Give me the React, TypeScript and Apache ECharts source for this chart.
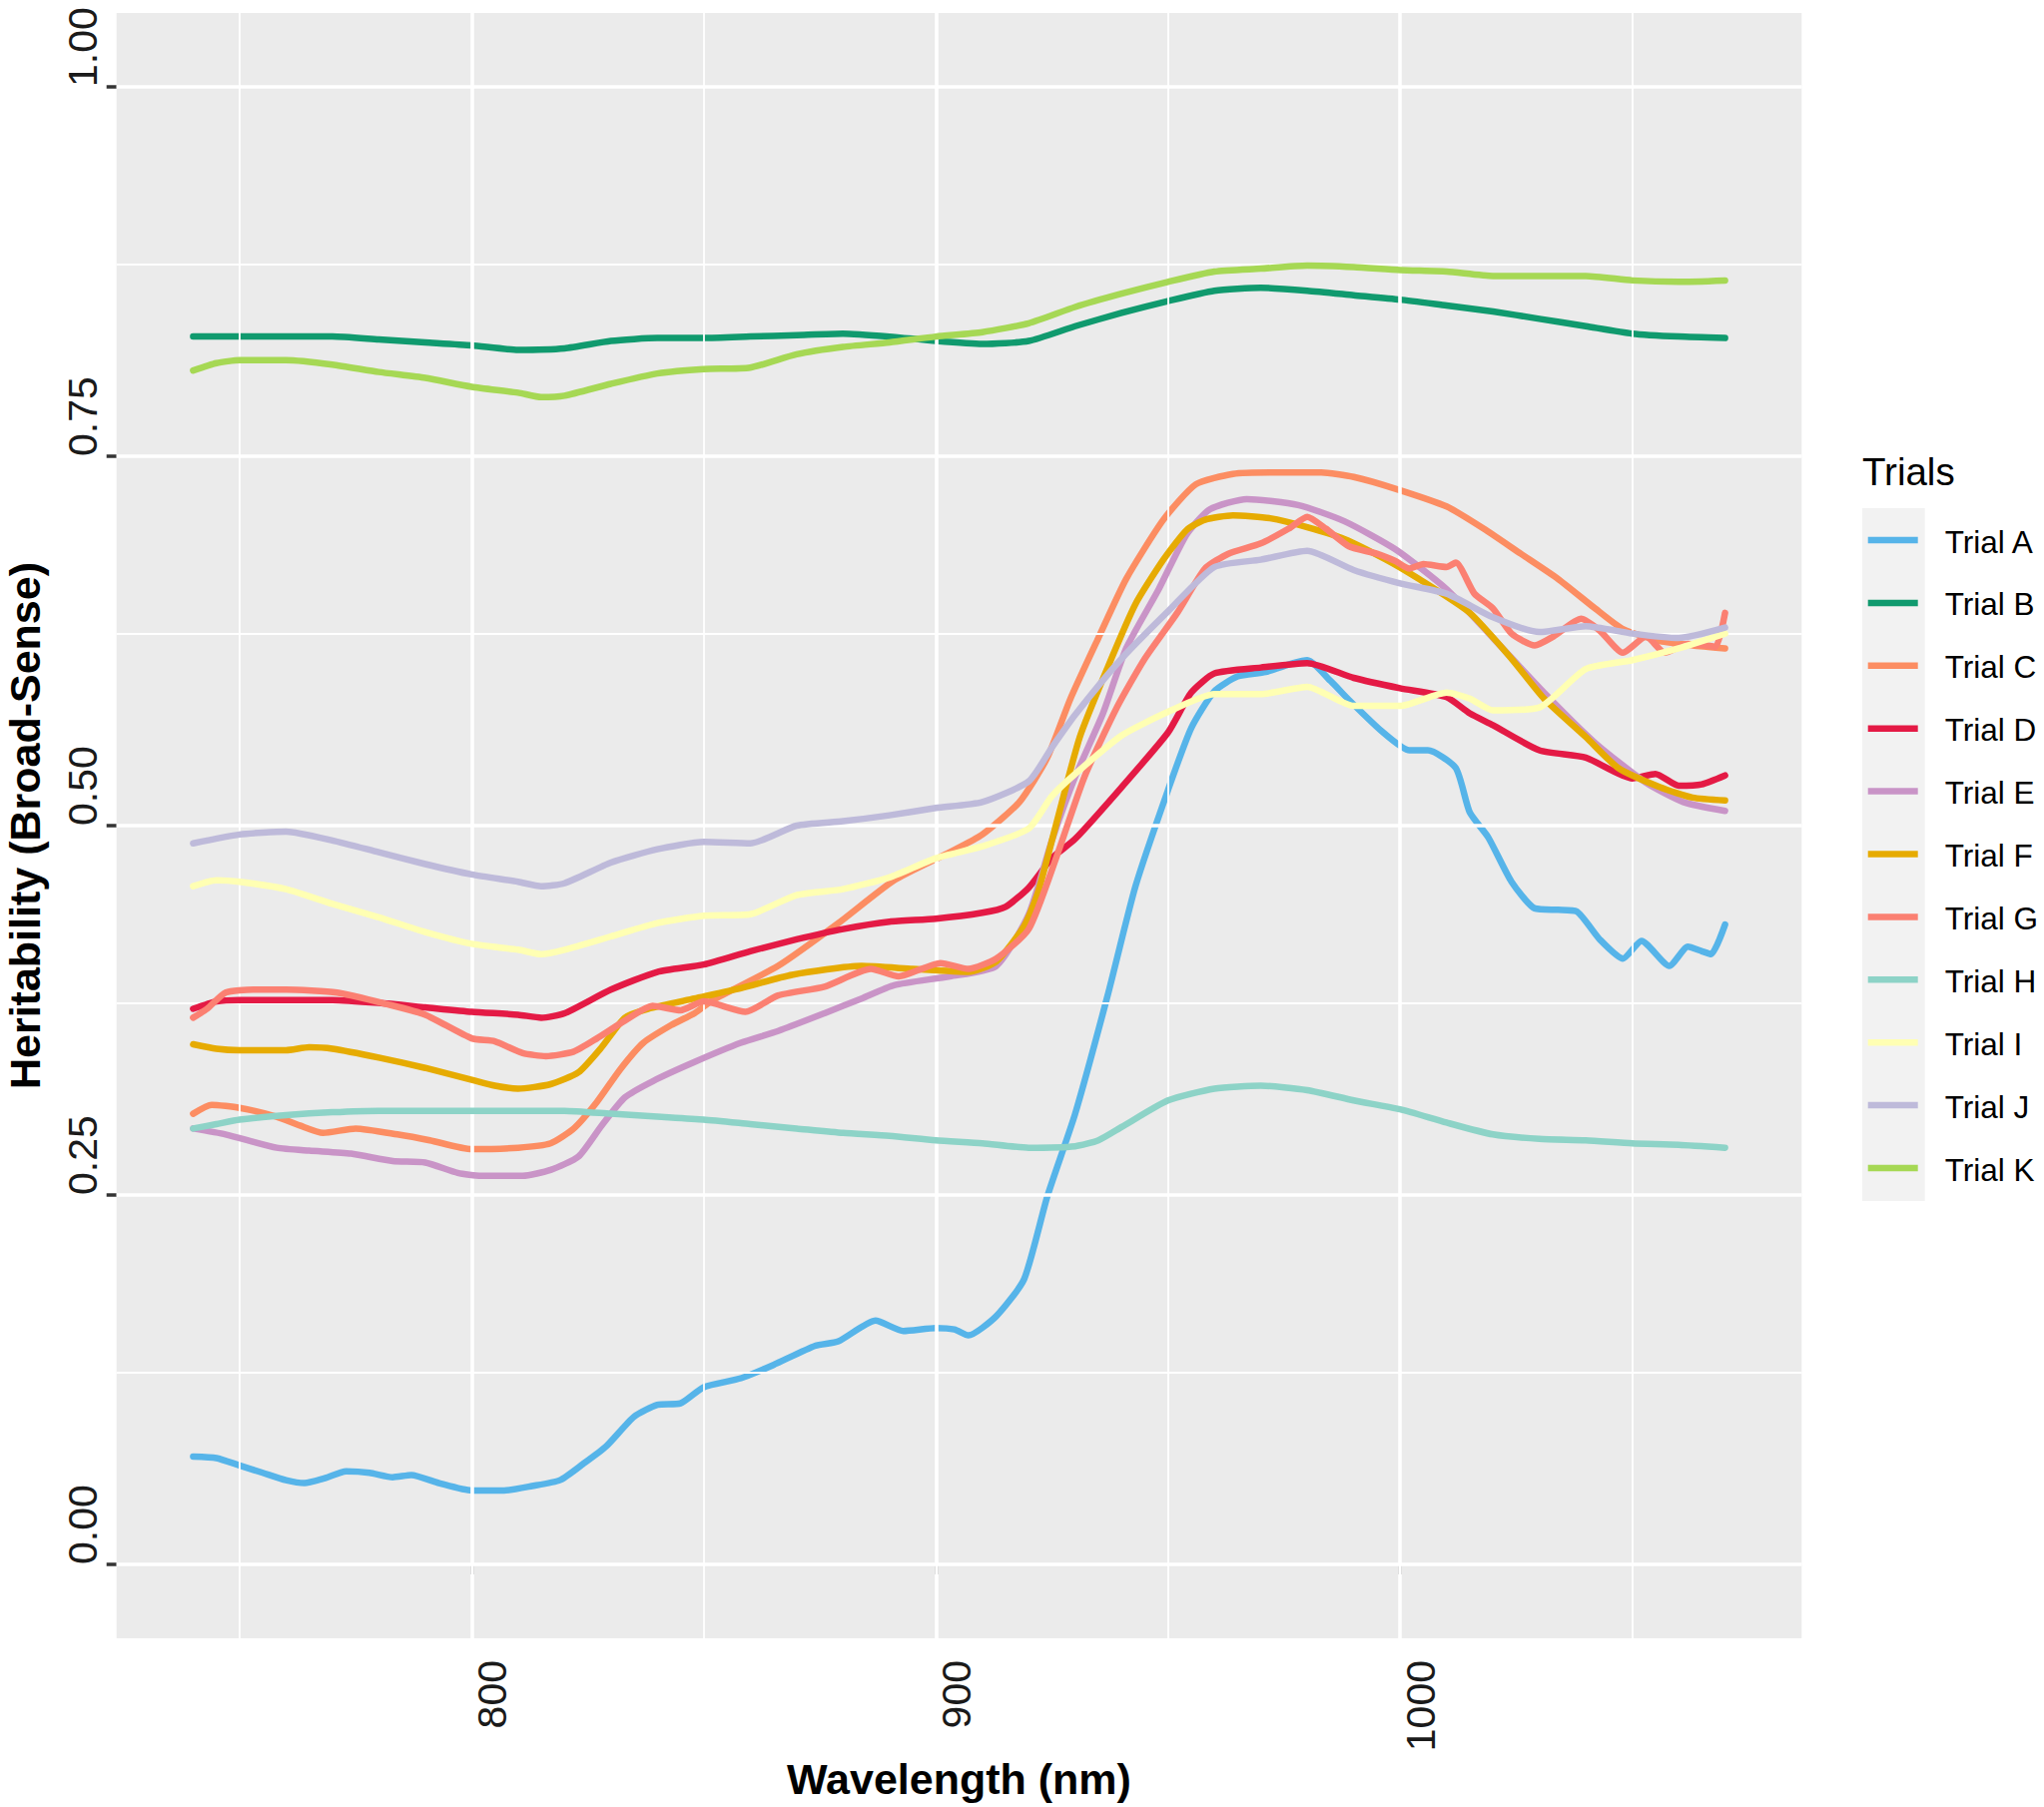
import React, { useEffect, useRef } from "react";
import * as echarts from "echarts";

// ---------- data ----------
const trialNames = ["Trial A", "Trial B", "Trial C", "Trial D", "Trial E", "Trial F", "Trial G", "Trial H", "Trial I", "Trial J", "Trial K"];
const trialColors = ["#56B4E9", "#109A6E", "#FC8D62", "#E41A45", "#C994C7", "#E6AB02", "#FB8072", "#8DD3C7", "#FFFFB3", "#BEBADA", "#A6D854"];

const xMajorTicks = [800, 900, 1000];
const xMinorTicks = [750, 850, 950, 1050];
const yMajorTicks = [0, 0.25, 0.5, 0.75, 1.0];
const yMinorTicks = [0.125, 0.375, 0.625, 0.875];

const trialA: [number, number][] = [
  [740, 0.073], [745, 0.072], [750, 0.067], [755, 0.062], [760, 0.057], [764, 0.055], [768, 0.058], [773, 0.063],
  [778, 0.062], [783, 0.059], [787, 0.0605], [793, 0.055], [800, 0.05], [807, 0.05], [813, 0.053], [819, 0.057],
  [824, 0.068], [829, 0.08], [835, 0.1], [840, 0.108], [845, 0.109], [850, 0.12], [858, 0.126], [865, 0.135],
  [874, 0.148], [879, 0.151], [887, 0.165], [893, 0.158], [900, 0.16], [904, 0.159], [907, 0.155], [913, 0.168],
  [919, 0.193], [924, 0.249], [930, 0.305], [937, 0.385], [943, 0.459], [950, 0.524], [955, 0.566], [960, 0.591],
  [965, 0.601], [971, 0.604], [977, 0.61], [980, 0.612], [985, 0.598], [989, 0.585], [996, 0.564], [1002, 0.551],
  [1006, 0.551], [1012, 0.539], [1015, 0.509], [1019, 0.492], [1024, 0.462], [1029, 0.444], [1034, 0.443],
  [1038, 0.442], [1043, 0.423], [1048, 0.41], [1052, 0.422], [1058, 0.405], [1062, 0.418], [1065, 0.415],
  [1067, 0.413], [1070, 0.433],
];
const trialB: [number, number][] = [
  [740, 0.831], [750, 0.831], [760, 0.831], [770, 0.831], [780, 0.829], [790, 0.827], [800, 0.825], [810, 0.822],
  [820, 0.823], [830, 0.828], [840, 0.83], [850, 0.83], [860, 0.831], [870, 0.832], [880, 0.833], [890, 0.831],
  [900, 0.828], [910, 0.826], [920, 0.828], [930, 0.838], [940, 0.847], [950, 0.855], [960, 0.862], [970, 0.864],
  [980, 0.862], [990, 0.859], [1000, 0.856], [1010, 0.852], [1020, 0.848], [1030, 0.843], [1040, 0.838],
  [1050, 0.833], [1060, 0.831], [1070, 0.83],
];
const trialC: [number, number][] = [
  [740, 0.305], [744, 0.311], [750, 0.309], [758, 0.303], [763, 0.297], [768, 0.292], [775, 0.295], [784, 0.291],
  [791, 0.287], [800, 0.281], [810, 0.282], [817, 0.285], [822, 0.295], [827, 0.313], [832, 0.335], [837, 0.353],
  [843, 0.365], [848, 0.373], [852, 0.382], [866, 0.405], [879, 0.434], [891, 0.463], [903, 0.482], [910, 0.494],
  [918, 0.516], [924, 0.546], [929, 0.586], [935, 0.627], [941, 0.667], [949, 0.707], [956, 0.731], [964, 0.738],
  [972, 0.739], [983, 0.739], [990, 0.736], [999, 0.728], [1010, 0.716], [1018, 0.701], [1026, 0.684],
  [1034, 0.667], [1042, 0.647], [1048, 0.633], [1056, 0.625], [1063, 0.622], [1070, 0.62],
];
const trialD: [number, number][] = [
  [740, 0.376], [745, 0.381], [750, 0.382], [760, 0.382], [770, 0.382], [780, 0.38], [790, 0.377], [800, 0.374],
  [810, 0.372], [815, 0.37], [820, 0.373], [830, 0.389], [840, 0.401], [850, 0.406], [860, 0.415], [870, 0.423],
  [880, 0.43], [890, 0.435], [900, 0.437], [910, 0.441], [915, 0.445], [920, 0.458], [925, 0.478], [930, 0.491],
  [940, 0.526], [950, 0.563], [955, 0.59], [960, 0.603], [970, 0.607], [980, 0.61], [990, 0.6], [1000, 0.593],
  [1010, 0.587], [1015, 0.576], [1020, 0.568], [1030, 0.551], [1040, 0.546], [1050, 0.532], [1055, 0.535],
  [1060, 0.527], [1065, 0.528], [1070, 0.534],
];
const trialE: [number, number][] = [
  [740, 0.295], [747, 0.291], [758, 0.282], [765, 0.28], [774, 0.278], [783, 0.273], [790, 0.272], [797, 0.265],
  [802, 0.263], [811, 0.263], [817, 0.267], [823, 0.276], [828, 0.297], [833, 0.316], [839, 0.327], [848, 0.34],
  [858, 0.353], [866, 0.361], [876, 0.373], [884, 0.383], [891, 0.392], [903, 0.398], [913, 0.405], [920, 0.44],
  [925, 0.49], [930, 0.533], [936, 0.576], [941, 0.62], [948, 0.66], [954, 0.697], [959, 0.714], [967, 0.721],
  [978, 0.717], [988, 0.706], [999, 0.687], [1010, 0.66], [1020, 0.627], [1031, 0.59], [1042, 0.556],
  [1053, 0.529], [1061, 0.516], [1070, 0.51],
];
const trialF: [number, number][] = [
  [740, 0.352], [745, 0.349], [750, 0.348], [760, 0.348], [765, 0.35], [770, 0.349], [780, 0.343], [790, 0.336],
  [800, 0.328], [805, 0.324], [810, 0.322], [817, 0.325], [823, 0.333], [828, 0.35], [833, 0.37], [838, 0.376],
  [848, 0.383], [858, 0.39], [869, 0.399], [884, 0.405], [895, 0.403], [907, 0.401], [913, 0.408], [919, 0.432],
  [922, 0.455], [926, 0.502], [931, 0.56], [937, 0.607], [943, 0.65], [949, 0.68], [954, 0.7], [958, 0.707],
  [964, 0.71], [972, 0.708], [980, 0.702], [988, 0.694], [997, 0.68], [1004, 0.667], [1015, 0.644], [1024, 0.613],
  [1031, 0.586], [1040, 0.56], [1047, 0.539], [1056, 0.526], [1063, 0.519], [1070, 0.517],
];
const trialG: [number, number][] = [
  [740, 0.37], [743, 0.376], [747, 0.387], [753, 0.389], [760, 0.389], [771, 0.387], [782, 0.379], [790, 0.372],
  [800, 0.356], [805, 0.354], [811, 0.346], [816, 0.344], [822, 0.347], [827, 0.356], [833, 0.368], [839, 0.378],
  [845, 0.375], [850, 0.381], [859, 0.374], [866, 0.385], [876, 0.391], [886, 0.403], [892, 0.398], [901, 0.407],
  [907, 0.403], [913, 0.41], [920, 0.43], [926, 0.479], [932, 0.533], [939, 0.58], [945, 0.613], [952, 0.644],
  [958, 0.674], [963, 0.684], [970, 0.691], [976, 0.701], [980, 0.709], [984, 0.701], [989, 0.689], [995, 0.684],
  [999, 0.679], [1002, 0.674], [1005, 0.677], [1010, 0.675], [1012, 0.678], [1016, 0.657], [1020, 0.647],
  [1024, 0.63], [1029, 0.622], [1033, 0.628], [1039, 0.64], [1043, 0.632], [1048, 0.617], [1053, 0.628],
  [1057, 0.617], [1062, 0.623], [1066, 0.622], [1068, 0.621], [1070, 0.644],
];
const trialH: [number, number][] = [
  [740, 0.295], [745, 0.298], [750, 0.301], [760, 0.304], [770, 0.306], [780, 0.307], [790, 0.307], [800, 0.307],
  [810, 0.307], [820, 0.307], [830, 0.305], [840, 0.303], [850, 0.301], [860, 0.298], [870, 0.295], [880, 0.292],
  [890, 0.29], [900, 0.287], [910, 0.285], [920, 0.282], [930, 0.283], [935, 0.287], [940, 0.296], [950, 0.314],
  [960, 0.322], [970, 0.324], [980, 0.321], [990, 0.314], [1000, 0.308], [1010, 0.299], [1020, 0.291],
  [1030, 0.288], [1040, 0.287], [1050, 0.285], [1060, 0.284], [1070, 0.282],
];
const trialI: [number, number][] = [
  [740, 0.459], [745, 0.463], [750, 0.462], [760, 0.457], [770, 0.447], [780, 0.438], [790, 0.428], [800, 0.42],
  [810, 0.416], [815, 0.413], [820, 0.416], [830, 0.425], [840, 0.434], [850, 0.439], [860, 0.44], [870, 0.453],
  [880, 0.457], [890, 0.465], [900, 0.478], [910, 0.486], [920, 0.498], [925, 0.52], [930, 0.535], [940, 0.561],
  [950, 0.577], [960, 0.589], [970, 0.589], [980, 0.594], [990, 0.581], [1000, 0.581], [1010, 0.59], [1015, 0.586],
  [1020, 0.578], [1030, 0.58], [1040, 0.606], [1050, 0.612], [1060, 0.62], [1070, 0.63],
];
const trialJ: [number, number][] = [
  [740, 0.488], [750, 0.494], [760, 0.496], [770, 0.49], [780, 0.482], [790, 0.474], [800, 0.467], [810, 0.462],
  [815, 0.459], [820, 0.461], [830, 0.475], [840, 0.484], [850, 0.489], [860, 0.488], [870, 0.5], [880, 0.503],
  [890, 0.507], [900, 0.512], [910, 0.516], [920, 0.53], [925, 0.553], [930, 0.575], [940, 0.613], [950, 0.645],
  [960, 0.675], [970, 0.68], [980, 0.686], [990, 0.673], [1000, 0.664], [1010, 0.657], [1020, 0.641],
  [1030, 0.631], [1040, 0.635], [1050, 0.63], [1060, 0.627], [1070, 0.634],
];
const trialK: [number, number][] = [
  [740, 0.808], [745, 0.813], [750, 0.815], [760, 0.815], [770, 0.812], [780, 0.807], [790, 0.803], [800, 0.797],
  [810, 0.793], [815, 0.79], [820, 0.791], [830, 0.799], [840, 0.806], [850, 0.809], [860, 0.81], [870, 0.819],
  [880, 0.824], [890, 0.827], [900, 0.831], [910, 0.834], [920, 0.84], [930, 0.851], [940, 0.86], [950, 0.868],
  [960, 0.875], [970, 0.877], [980, 0.879], [990, 0.878], [1000, 0.876], [1010, 0.875], [1020, 0.872],
  [1030, 0.872], [1040, 0.872], [1050, 0.869], [1060, 0.868], [1070, 0.869],
];

const trialSeries = [trialA, trialB, trialC, trialD, trialE, trialF, trialG, trialH, trialI, trialJ, trialK];

// ---------- layout ----------
const W = 2047;
const H = 1810;
const PL = 116.7;
const PT = 13;
const PR = 1804.3;
const PB = 1641;
const FONT = "Liberation Sans, Arial, Helvetica, sans-serif";

export default function App() {
  const ref = useRef<HTMLDivElement>(null);

  useEffect(() => {
    const chart = echarts.init(ref.current!, null, { renderer: "svg" });

    const gridLines = [
      ...xMajorTicks.map((v) => ({ xAxis: v, lineStyle: { width: 3.6 } })),
      ...xMinorTicks.map((v) => ({ xAxis: v, lineStyle: { width: 1.8 } })),
      ...yMajorTicks.map((v) => ({ yAxis: v, lineStyle: { width: 3.6 } })),
      ...yMinorTicks.map((v) => ({ yAxis: v, lineStyle: { width: 1.8 } })),
    ];

    const legendTop = 541;
    const legendStep = 62.9;
    const legendGraphics: any[] = [
      {
        type: "text",
        x: 1865,
        y: 472.7,
        style: { text: "Trials", font: `38.5px ${FONT}`, fill: "#000", verticalAlign: "middle", align: "left" },
      },
      {
        type: "rect",
        shape: { x: 1865, y: 509, width: 62.7, height: legendStep * trialNames.length + 2 },
        style: { fill: "#F2F2F2" },
      },
    ];
    trialNames.forEach((name, i) => {
      const y = legendTop + i * legendStep;
      legendGraphics.push({
        type: "line",
        shape: { x1: 1870.7, y1: y, x2: 1920.7, y2: y },
        style: { stroke: trialColors[i], lineWidth: 6.5 },
      });
      legendGraphics.push({
        type: "text",
        x: 1947.7,
        y: y + 1.5,
        style: { text: name, font: `31.5px ${FONT}`, fill: "#000", verticalAlign: "middle", align: "left" },
      });
    });

    const option: any = {
      animation: false,
      backgroundColor: "#ffffff",
      grid: {
        left: PL,
        top: PT,
        width: PR - PL,
        height: PB - PT,
        show: true,
        backgroundColor: "#EBEBEB",
        borderWidth: 0,
        containLabel: false,
      },
      xAxis: {
        type: "value",
        min: 723.5,
        max: 1086.5,
        axisLine: { show: false },
        splitLine: { show: false },
        axisTick: {
          show: true,
          customValues: xMajorTicks,
          length: 10,
          lineStyle: { color: "#333333", width: 3.5 },
        },
        axisLabel: {
          customValues: xMajorTicks,
          rotate: 90,
          margin: 22,
          align: "right",
          verticalAlign: "top",
          fontSize: 41,
          fontFamily: FONT,
          color: "#1a1a1a",
          formatter: (v: number) => String(Math.round(v)),
        },
      },
      yAxis: {
        type: "value",
        min: -0.05,
        max: 1.05,
        axisLine: { show: false },
        splitLine: { show: false },
        axisTick: {
          show: true,
          customValues: yMajorTicks,
          length: 10,
          lineStyle: { color: "#333333", width: 3.5 },
        },
        axisLabel: {
          customValues: yMajorTicks,
          rotate: 90,
          margin: 13,
          align: "left",
          verticalAlign: "bottom",
          fontSize: 41,
          fontFamily: FONT,
          color: "#1a1a1a",
          formatter: (v: number) => v.toFixed(2),
        },
      },
      graphic: [
        {
          type: "text",
          x: 25,
          y: (PT + PB) / 2,
          rotation: Math.PI / 2,
          style: {
            text: "Heritability (Broad-Sense)",
            font: `bold 43px ${FONT}`,
            fill: "#000",
            align: "center",
            verticalAlign: "middle",
          },
        },
        {
          type: "text",
          x: (PL + PR) / 2,
          y: 1782,
          style: {
            text: "Wavelength (nm)",
            font: `bold 43px ${FONT}`,
            fill: "#000",
            align: "center",
            verticalAlign: "middle",
          },
        },
        ...legendGraphics,
      ],
      series: [
        {
          type: "line",
          name: "grid",
          data: [],
          silent: true,
          z: 1,
          markLine: {
            silent: true,
            symbol: ["none", "none"],
            label: { show: false },
            emphasis: { disabled: true },
            lineStyle: { color: "#ffffff", type: "solid", width: 1.8 },
            data: gridLines,
          },
        },
        ...trialSeries.map((d, i) => ({
          type: "line",
          name: trialNames[i],
          data: d,
          symbol: "none",
          showSymbol: false,
          smooth: 0.2,
          z: 2 + i,
          lineStyle: { color: trialColors[i], width: 6.5, join: "round", cap: "round" },
          itemStyle: { color: trialColors[i] },
          emphasis: { disabled: true },
        })),
      ],
    };

    chart.setOption(option);
    return () => chart.dispose();
  }, []);

  return (
    <div
      ref={ref}
      style={{ position: "absolute", left: 0, top: 0, width: W, height: H, background: "#fff" }}
    />
  );
}
